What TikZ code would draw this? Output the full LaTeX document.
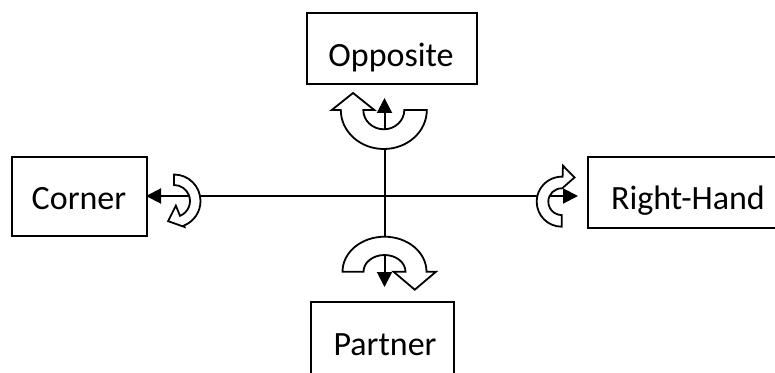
\documentclass[tikz,border=0pt]{standalone}
\usepackage{fontspec}
\setmainfont{Carlito}
\usetikzlibrary{arrows.meta}
\tikzset{
  box/.style={draw, line width=2pt, outer sep=0pt, inner sep=0pt},
  lbl/.style={font=\fontsize{34}{40}\selectfont, inner sep=0pt, anchor=base},
  ln/.style={line width=2pt, {Triangle[length=15pt,width=15pt]}-{Triangle[length=15pt,width=15pt]}},
  blk/.style={fill=white, draw=black, line width=1.8pt, line join=miter},
}
% #1 start angle, #2 end angle, #3 Rx, #4 Ry, #5 rx, #6 ry, #7 head inner extra, #8 head outer extra, #9 head length
\newcommand{\uturnarrow}[9]{%
  \pgfmathsetmacro\utsx{#3*cos(#1)}%
  \pgfmathsetmacro\utsy{#4*sin(#1)}%
  \pgfmathsetmacro\utax{(#3+#8)*cos(#2)}%
  \pgfmathsetmacro\utay{(#4+#8)*sin(#2)}%
  \pgfmathsetmacro\uttx{(#5-#7+#3+#8)/2*cos(#2)+#9*cos(#2-90)}%
  \pgfmathsetmacro\utty{(#6-#7+#4+#8)/2*sin(#2)+#9*sin(#2-90)}%
  \pgfmathsetmacro\utbx{(#5-#7)*cos(#2)}%
  \pgfmathsetmacro\utby{(#6-#7)*sin(#2)}%
  \pgfmathsetmacro\utcx{#5*cos(#2)}%
  \pgfmathsetmacro\utcy{#6*sin(#2)}%
  \filldraw[blk] (\utsx,\utsy) arc[start angle=#1, end angle=#2, x radius=#3, y radius=#4]
    -- (\utax,\utay) -- (\uttx,\utty) -- (\utbx,\utby) -- (\utcx,\utcy)
    arc[start angle=#2, end angle=#1, x radius=#5, y radius=#6] -- cycle;}
\begin{document}
\begin{tikzpicture}[x=1pt,y=1pt]
\useasboundingbox (0,0) rectangle (775,372);
% boxes
\node[box, minimum width=170pt, minimum height=71pt] (opp) at (392,323.5) {};
\node[box, minimum width=135.5pt, minimum height=79.5pt] (cor) at (79.25,175.25) {};
\node[box, minimum width=212.5pt, minimum height=71pt] (rh) at (693.75,179) {};
\node[box, minimum width=143pt, minimum height=100pt] (par) at (382.5,20.5) {};
% labels
\node[lbl] (oppt) at (391,305) {Opposite};
\node[lbl] (cort) at (79,162) {Corner};
\node[lbl] (rht) at (688,162) {Right-Hand};
\node[lbl] (part) at (385,17) {Partner};
% connectors
\coordinate (c) at (384.5,176);
\draw[ln, shorten <=-1pt, shorten >=9.5pt] (cor.east |- c) -- (rh.west |- c);
\draw[ln, shorten <=14.5pt, shorten >=14pt] (par.north -| c) -- (opp.south -| c);
% curved block arrows
\begin{scope}[shift={(383.8,262)}]
  \uturnarrow{0}{-180}{43}{39}{20.5}{19.3}{11}{9}{17}
\end{scope}
\begin{scope}[shift={(384.5,100.3)}]
  \uturnarrow{180}{0}{42}{35}{21}{16.7}{12}{9.5}{18}
\end{scope}
\begin{scope}[shift={(174,171)}]
  \uturnarrow{90}{-68}{26.5}{26.5}{16}{16}{11}{1.5}{13}
\end{scope}
\begin{scope}[shift={(561.7,170.3)}]
  \uturnarrow{270}{88}{25}{25}{13.4}{13.4}{0}{11}{12}
\end{scope}
\end{tikzpicture}
\end{document}
